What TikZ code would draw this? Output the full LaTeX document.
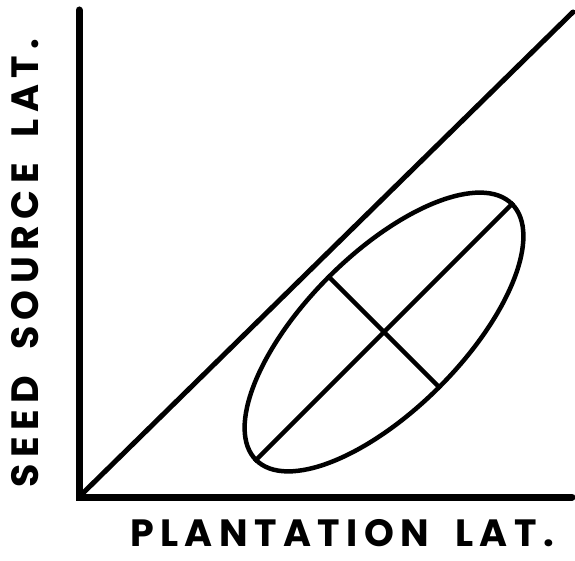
\documentclass[tikz,border=0pt]{standalone}
\usepackage{fontspec}
\setmainfont{Poppins}[LetterSpace=17, WordSpace=1.8]
\usetikzlibrary{positioning,shapes.geometric}

\begin{document}
\begin{tikzpicture}[x=1pt,y=1pt,
  axisline/.style={line width=7pt, line cap=round},
  curveline/.style={line width=4.5pt},
  axislabel/.style={font=\fontsize{38}{42}\selectfont\bfseries, inner sep=0pt}]
\useasboundingbox (0,0) rectangle (575,560);
\coordinate (origin) at (79,63);
\coordinate (ytop) at (79,550);
\coordinate (xend) at (572,63);
\coordinate (diagend) at (573,548);
% axes
\draw[axisline] (ytop) -- (origin) -- (xend);
\draw[line width=5pt, line cap=round] (origin) -- (diagend);
% scatter ellipse with its two axes
\node[ellipse, draw, curveline, rotate=45, minimum width=362pt, minimum height=156pt, inner sep=0pt] (cloud) at (384,228) {};
\draw[curveline] (cloud.west) -- (cloud.east);
\draw[curveline] (cloud.north) -- (cloud.south);
% labels
\node[axislabel, anchor=base] (xlabel) at (342,14) {PLANTATION LAT.};
\node[axislabel, rotate=90, anchor=base] (ylabel) at (38,297) {SEED SOURCE LAT.};
\end{tikzpicture}
\end{document}
